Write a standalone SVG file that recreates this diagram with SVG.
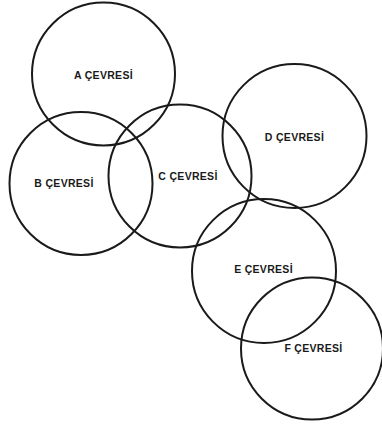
<svg xmlns="http://www.w3.org/2000/svg" width="382" height="426" viewBox="0 0 382 426">
<style>
.c{fill:none;stroke:#1a1a1a;stroke-width:2}
.t{font-family:"Liberation Sans",Arial,sans-serif;font-weight:bold;font-size:10.5px;letter-spacing:0.3px;fill:#1a1a1a;text-anchor:middle}
</style>
<rect width="382" height="426" fill="#fff"/>
<g id="A"><circle class="c" cx="103.5" cy="74" r="71.5"/><text class="t" x="103.5" y="79">A ÇEVRESİ</text></g>
<g id="B"><circle class="c" cx="81" cy="183.5" r="71.5"/><text class="t" x="64" y="186.5">B ÇEVRESİ</text></g>
<g id="C"><circle class="c" cx="180" cy="176" r="71.5"/><text class="t" x="188" y="179.5">C ÇEVRESİ</text></g>
<g id="D"><circle class="c" cx="294.5" cy="136" r="72"/><text class="t" x="294.5" y="140.5">D ÇEVRESİ</text></g>
<g id="E"><circle class="c" cx="264" cy="271" r="72"/><text class="t" x="263.5" y="272.5">E ÇEVRESİ</text></g>
<g id="F"><circle class="c" cx="312" cy="348.5" r="71"/><text class="t" x="313.5" y="352">F ÇEVRESİ</text></g>
<g id="connectors"></g>
</svg>
